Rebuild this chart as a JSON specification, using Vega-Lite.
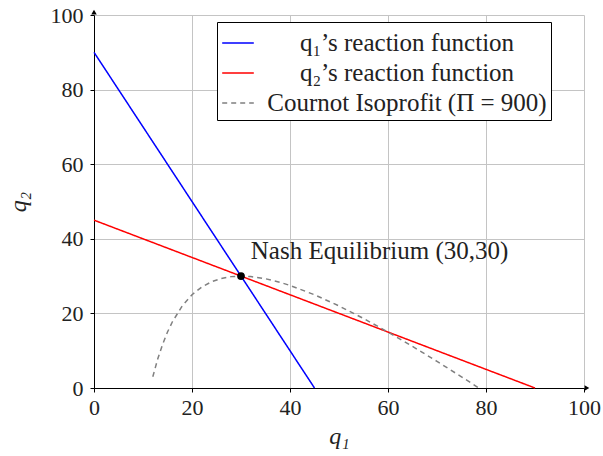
{
  "$schema": "https://vega.github.io/schema/vega-lite/v6.json",
  "width": 490,
  "height": 373,
  "autosize": {"type": "none"},
  "padding": {"left": 94, "top": 15, "right": 19, "bottom": 68},
  "background": "white",
  "config": {
    "font": "Liberation Serif",
    "view": {"stroke": null},
    "axis": {
      "domainColor": "#000000",
      "domainWidth": 1,
      "tickColor": "#000000",
      "tickSize": 4,
      "gridColor": "#c4c4c4",
      "gridWidth": 1,
      "labelFont": "Liberation Serif",
      "labelFontSize": 22,
      "labelColor": "#222222",
      "labelFlush": false,
      "titleFont": "Liberation Serif",
      "titleFontSize": 24,
      "titleFontStyle": "italic",
      "titleFontWeight": "normal",
      "titleColor": "#222222"
    }
  },
  "datasets": {
    "lines": [
      {"q1": 0, "q2": 90, "series": "q₁’s reaction function"},
      {"q1": 45, "q2": 0, "series": "q₁’s reaction function"},
      {"q1": 0, "q2": 45, "series": "q₂’s reaction function"},
      {"q1": 90, "q2": 0, "series": "q₂’s reaction function"},
      {"q1": 12, "q2": 3, "series": "Cournot Isoprofit (Π = 900)"},
      {"q1": 13, "q2": 7.77, "series": "Cournot Isoprofit (Π = 900)"},
      {"q1": 14, "q2": 11.71, "series": "Cournot Isoprofit (Π = 900)"},
      {"q1": 15, "q2": 15, "series": "Cournot Isoprofit (Π = 900)"},
      {"q1": 16, "q2": 17.75, "series": "Cournot Isoprofit (Π = 900)"},
      {"q1": 18, "q2": 22, "series": "Cournot Isoprofit (Π = 900)"},
      {"q1": 20, "q2": 25, "series": "Cournot Isoprofit (Π = 900)"},
      {"q1": 22, "q2": 27.09, "series": "Cournot Isoprofit (Π = 900)"},
      {"q1": 24, "q2": 28.5, "series": "Cournot Isoprofit (Π = 900)"},
      {"q1": 26, "q2": 29.38, "series": "Cournot Isoprofit (Π = 900)"},
      {"q1": 28, "q2": 29.86, "series": "Cournot Isoprofit (Π = 900)"},
      {"q1": 30, "q2": 30, "series": "Cournot Isoprofit (Π = 900)"},
      {"q1": 32, "q2": 29.88, "series": "Cournot Isoprofit (Π = 900)"},
      {"q1": 35, "q2": 29.29, "series": "Cournot Isoprofit (Π = 900)"},
      {"q1": 38, "q2": 28.32, "series": "Cournot Isoprofit (Π = 900)"},
      {"q1": 40, "q2": 27.5, "series": "Cournot Isoprofit (Π = 900)"},
      {"q1": 45, "q2": 25, "series": "Cournot Isoprofit (Π = 900)"},
      {"q1": 50, "q2": 22, "series": "Cournot Isoprofit (Π = 900)"},
      {"q1": 55, "q2": 18.64, "series": "Cournot Isoprofit (Π = 900)"},
      {"q1": 60, "q2": 15, "series": "Cournot Isoprofit (Π = 900)"},
      {"q1": 65, "q2": 11.15, "series": "Cournot Isoprofit (Π = 900)"},
      {"q1": 70, "q2": 7.14, "series": "Cournot Isoprofit (Π = 900)"},
      {"q1": 75, "q2": 3, "series": "Cournot Isoprofit (Π = 900)"},
      {"q1": 78, "q2": 0.46, "series": "Cournot Isoprofit (Π = 900)"},
      {"q1": 78.5, "q2": 0.04, "series": "Cournot Isoprofit (Π = 900)"}
    ],
    "nash": [{"q1": 30, "q2": 30}],
    "label": [{"q1": 32, "q2": 36.7, "text": "Nash Equilibrium (30,30)"}],
    "arrows": [
      {"q1": 100.6, "q2": 0, "shape": "triangle-right"},
      {"q1": 0, "q2": 100.8, "shape": "triangle-up"}
    ]
  },
  "layer": [
    {
      "data": {"name": "lines"},
      "mark": {"type": "line", "strokeWidth": 1.5},
      "encoding": {
        "x": {
          "field": "q1", "type": "quantitative",
          "scale": {"domain": [0, 100], "nice": false},
          "axis": {"values": [0, 20, 40, 60, 80, 100], "title": "q₁", "labelPadding": 5, "titlePadding": 6}
        },
        "y": {
          "field": "q2", "type": "quantitative",
          "scale": {"domain": [0, 100], "nice": false},
          "axis": {"values": [0, 20, 40, 60, 80, 100], "title": "q₂", "labelPadding": 7, "titlePadding": 20}
        },
        "color": {
          "field": "series", "type": "nominal",
          "scale": {
            "domain": ["q₁’s reaction function", "q₂’s reaction function", "Cournot Isoprofit (Π = 900)"],
            "range": ["#0000ff", "#ff0000", "#808080"]
          },
          "legend": {
            "title": null,
            "orient": "none",
            "legendX": 123,
            "legendY": 7,
            "strokeColor": "#000000",
            "fillColor": "#ffffff",
            "padding": 4,
            "symbolType": "stroke",
            "symbolSize": 1000,
            "symbolStrokeWidth": 1.5,
            "labelFont": "Liberation Serif",
            "labelFontSize": 25,
            "labelColor": "#222222",
            "labelLimit": 400,
            "labelAlign": "center",
            "labelOffset": 152,
            "rowPadding": -6
          }
        },
        "strokeDash": {
          "field": "series", "type": "nominal",
          "scale": {
            "domain": ["q₁’s reaction function", "q₂’s reaction function", "Cournot Isoprofit (Π = 900)"],
            "range": [[1, 0], [1, 0], [5, 4]]
          },
          "legend": null
        }
      }
    },
    {
      "data": {"name": "nash"},
      "mark": {"type": "point", "filled": true, "color": "#000000", "opacity": 1, "size": 60},
      "encoding": {
        "x": {"field": "q1", "type": "quantitative"},
        "y": {"field": "q2", "type": "quantitative"}
      }
    },
    {
      "data": {"name": "label"},
      "mark": {"type": "text", "align": "left", "baseline": "middle", "fontSize": 25, "font": "Liberation Serif", "color": "#222222"},
      "encoding": {
        "x": {"field": "q1", "type": "quantitative"},
        "y": {"field": "q2", "type": "quantitative"},
        "text": {"field": "text", "type": "nominal"}
      }
    },
    {
      "data": {"name": "arrows"},
      "mark": {"type": "point", "filled": true, "color": "#000000", "opacity": 1, "size": 30},
      "encoding": {
        "x": {"field": "q1", "type": "quantitative"},
        "y": {"field": "q2", "type": "quantitative"},
        "shape": {"field": "shape", "type": "nominal", "scale": null, "legend": null}
      }
    }
  ]
}
